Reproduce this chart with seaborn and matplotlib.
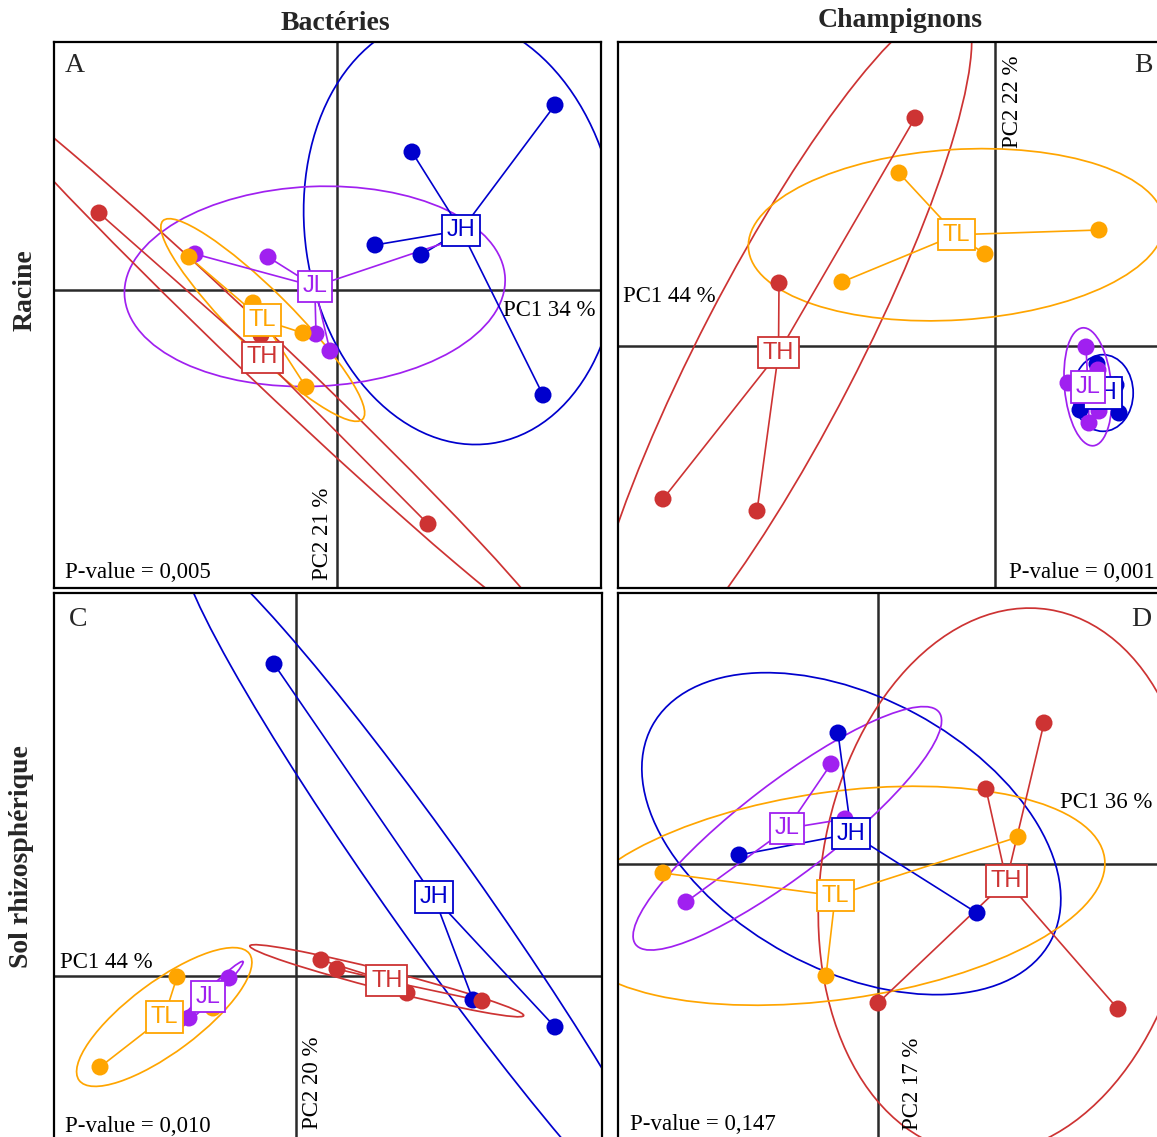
import numpy as np
import pandas as pd
import matplotlib
matplotlib.use("Agg")
import matplotlib.pyplot as plt
import seaborn as sns
from matplotlib.patches import Ellipse

# ---------------- data (PCA scores) ----------------
groups = ["JH", "JL", "TH", "TL"]
group_colors = {"JH": "#0000CD", "JL": "#A020F0", "TH": "#CD3333", "TL": "#FFA500"}

# Panel A : Bactéries / Racine
a_jh_x = [2.18, 0.75, 0.38, 0.84, 2.06]
a_jh_y = [1.85, 1.38, 0.45, 0.35, -1.05]
a_jl_x = [-1.42, -0.69, -0.21, -0.07, 1.28]
a_jl_y = [0.36, 0.33, -0.44, -0.61, 0.54]
a_th_x = [-2.38, -0.76, 0.91]
a_th_y = [0.77, -0.45, -2.34]
a_tl_x = [-1.48, -0.84, -0.34, -0.31]
a_tl_y = [0.33, -0.13, -0.43, -0.97]

# Panel B : Champignons / Racine
b_jh_x = [1.02, 0.85, 1.24, 1.21, 1.08]
b_jh_y = [-0.18, -0.64, -0.67, -0.39, -0.47]
b_jl_x = [0.91, 0.73, 0.94, 1.04, 1.03]
b_jl_y = [-0.01, -0.37, -0.77, -0.65, -0.24]
b_th_x = [-0.80, -2.16, -3.32, -2.38]
b_th_y = [2.28, 0.63, -1.53, -1.65]
b_tl_x = [-0.96, -0.10, -1.53, 1.04]
b_tl_y = [1.73, 0.92, 0.64, 1.16]

# Panel C : Bactéries / Sol rhizosphérique
c_jh_x = [-0.22, 2.59, 1.77]
c_jh_y = [3.12, -0.51, -0.24]
c_jl_x = [-0.67, -1.07, -0.90]
c_jl_y = [-0.02, -0.42, -0.18]
c_th_x = [0.25, 0.41, 1.11, 1.86]
c_th_y = [0.16, 0.07, -0.17, -0.25]
c_tl_x = [-1.19, -1.96, -0.83, -1.29]
c_tl_y = [-0.01, -0.91, -0.32, -0.40]

# Panel D : Champignons / Sol rhizosphérique
d_jh_x = [-0.40, -1.39, 0.99]
d_jh_y = [1.31, 0.09, -0.49]
d_jl_x = [-0.47, -1.92, -0.33]
d_jl_y = [1.00, -0.38, 0.45]
d_th_x = [1.66, 1.08, 0.00, 2.40]
d_th_y = [1.41, 0.75, -1.39, -1.45]
d_tl_x = [-2.15, -0.52, 1.40, -0.44]
d_tl_y = [-0.09, -1.12, 0.27, -0.33]

letters = ["A", "B", "C", "D"]
pc1_labels = ["PC1 34 %", "PC1 44 %", "PC1 44 %", "PC1 36 %"]
pc2_labels = ["PC2 21 %", "PC2 22 %", "PC2 20 %", "PC2 17 %"]
pvalues = ["P-value = 0,005", "P-value = 0,001", "P-value = 0,010", "P-value = 0,147"]
col_titles = ["Bactéries", "Champignons"]
row_titles = ["Racine", "Sol rhizosphérique"]


def make_df(jh_x, jh_y, jl_x, jl_y, th_x, th_y, tl_x, tl_y):
    parts = []
    for g, xs, ys in (("JH", jh_x, jh_y), ("JL", jl_x, jl_y),
                      ("TH", th_x, th_y), ("TL", tl_x, tl_y)):
        parts.append(pd.DataFrame({"x": xs, "y": ys, "group": g}))
    return pd.concat(parts, ignore_index=True)


dfs = [
    make_df(a_jh_x, a_jh_y, a_jl_x, a_jl_y, a_th_x, a_th_y, a_tl_x, a_tl_y),
    make_df(b_jh_x, b_jh_y, b_jl_x, b_jl_y, b_th_x, b_th_y, b_tl_x, b_tl_y),
    make_df(c_jh_x, c_jh_y, c_jl_x, c_jl_y, c_th_x, c_th_y, c_tl_x, c_tl_y),
    make_df(d_jh_x, d_jh_y, d_jl_x, d_jl_y, d_th_x, d_th_y, d_tl_x, d_tl_y),
]

# ---------------- layout ----------------
W, H = 1157, 1137
DPI = 100
ELL = 2.146  # ellipse scale (x standard deviation)

sns.set_style("white")
plt.rcParams["font.family"] = ["Liberation Serif", "DejaVu Serif"]

fig = plt.figure(figsize=(W / DPI, H / DPI), dpi=DPI)

# panel frames in pixels: (left, top, right, bottom), origin (x0, y0)
frames = [
    ((54, 42, 601, 588), (337, 290)),
    ((618, 42, 1160, 588), (995, 346)),
    ((54, 593, 602, 1139), (296, 976)),
    ((618, 593, 1160, 1139), (878, 864)),
]

SERIF = ["Liberation Serif", "DejaVu Serif"]
SANS = ["Liberation Sans", "DejaVu Sans"]


def ftext(px, py, s, va="center", **kw):
    fig.text(px / W, 1 - py / H, s, ha="center", va=va, **kw)


for i, (df, ((l, t, r, b), (ox, oy))) in enumerate(zip(dfs, frames)):
    ax = fig.add_axes([l / W, 1 - b / H, (r - l) / W, (b - t) / H])
    ax.set_xlim((l - ox) / 100, (r - ox) / 100)
    ax.set_ylim((oy - b) / 100, (oy - t) / 100)
    ax.axhline(0, color="#2a2a2a", lw=1.8, zorder=1)
    ax.axvline(0, color="#2a2a2a", lw=1.8, zorder=1)

    centers = {}
    for g in groups:
        sub = df[df["group"] == g]
        x = sub["x"].to_numpy()
        y = sub["y"].to_numpy()
        mx, my = x.mean(), y.mean()
        centers[g] = (mx, my)
        cov = np.cov(x, y, bias=True)
        vals, vecs = np.linalg.eigh(cov)
        vals = np.clip(vals, 1e-6, None)
        width = 2 * ELL * np.sqrt(vals[1])
        height = 2 * ELL * np.sqrt(vals[0])
        angle = np.degrees(np.arctan2(vecs[1, 1], vecs[0, 1]))
        ax.add_patch(Ellipse((mx, my), width, height, angle=angle, fill=False,
                             ec=group_colors[g], lw=1.25, zorder=2))
        for xi, yi in zip(x, y):
            ax.plot([mx, xi], [my, yi], color=group_colors[g], lw=1.2, zorder=3)

    sns.scatterplot(data=df, x="x", y="y", hue="group", hue_order=groups,
                    palette=group_colors, s=150, linewidth=0, legend=False,
                    ax=ax, zorder=4)

    for g in groups:
        mx, my = centers[g]
        ax.text(mx, my, g, ha="center", va="center", color=group_colors[g],
                fontsize=17, family=SANS, zorder=6,
                bbox=dict(boxstyle="square,pad=0.2", fc="white",
                          ec=group_colors[g], lw=1.3))

    ax.set_xticks([])
    ax.set_yticks([])
    ax.set_xlabel("")
    ax.set_ylabel("")
    for sp in ax.spines.values():
        sp.set_color("black")
        sp.set_linewidth(1.6)
        sp.set_visible(True)

TXT = dict(family=SERIF, fontsize=16.5, color="black")

# panel letters
ftext(75, 65, letters[0], family=SERIF, fontsize=20)
ftext(1143, 66, letters[1], family=SERIF, fontsize=20)
ftext(78, 619, letters[2], family=SERIF, fontsize=20)
ftext(1141, 619, letters[3], family=SERIF, fontsize=20)

# axis inertia labels
ftext(549, 310, pc1_labels[0], **TXT)
ftext(322, 534, pc2_labels[0], rotation=90, **TXT)
ftext(669, 297, pc1_labels[1], **TXT)
ftext(1013, 102, pc2_labels[1], rotation=90, **TXT)
ftext(106, 962, pc1_labels[2], **TXT)
ftext(312, 1083, pc2_labels[2], rotation=90, **TXT)
ftext(1106, 802, pc1_labels[3], **TXT)
ftext(912, 1084, pc2_labels[3], rotation=90, **TXT)

# p-values
ftext(138, 572, pvalues[0], **TXT)
ftext(1082, 572, pvalues[1], **TXT)
ftext(138, 1126, pvalues[2], **TXT)
ftext(703, 1124, pvalues[3], **TXT)

# column / row titles
ftext(335, 30, col_titles[0], va="baseline", family=SERIF, fontsize=20, fontweight="bold")
ftext(900, 27, col_titles[1], va="baseline", family=SERIF, fontsize=20, fontweight="bold")
ftext(25, 290, row_titles[0], family=SERIF, fontsize=20, fontweight="bold", rotation=90)
ftext(22, 857, row_titles[1], family=SERIF, fontsize=20, fontweight="bold", rotation=90)

fig.savefig("out.png", dpi=DPI)
